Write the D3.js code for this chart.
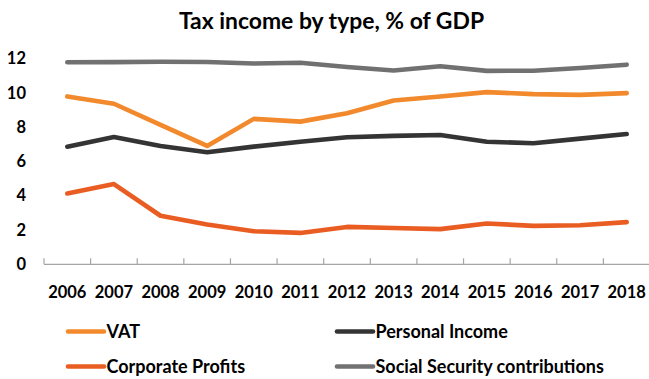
<!DOCTYPE html>
<html>
<head>
<meta charset="utf-8">
<script src="https://cdn.jsdelivr.net/npm/d3@7"></script>
<style>
  html, body { margin: 0; padding: 0; background: #fff; }
  svg { display: block; font-family: Lato, "Open Sans", sans-serif; font-weight: 700; }
</style>
</head>
<body>
<svg id="chart" width="649" height="379"></svg>
<script>
// Tax income by type, share of GDP (%)
const years = ["2006","2007","2008","2009","2010","2011","2012","2013","2014","2015","2016","2017","2018"];
const vat = [9.79, 9.36, 8.13, 6.90, 8.48, 8.32, 8.81, 9.55, 9.78, 10.04, 9.92, 9.88, 9.98];
const personalIncome = [6.86, 7.42, 6.90, 6.53, 6.86, 7.15, 7.41, 7.49, 7.54, 7.15, 7.06, 7.33, 7.60];
const corporateProfits = [4.13, 4.68, 2.83, 2.32, 1.93, 1.83, 2.18, 2.12, 2.05, 2.38, 2.24, 2.28, 2.46];
const socialSecurity = [11.78, 11.79, 11.81, 11.80, 11.71, 11.75, 11.50, 11.30, 11.55, 11.28, 11.29, 11.45, 11.64];
const yTicks = [0, 2, 4, 6, 8, 10, 12];

const series = [
  { name: "VAT", values: vat, color: "#F28A2D" },
  { name: "Personal Income", values: personalIncome, color: "#343434" },
  { name: "Corporate Profits", values: corporateProfits, color: "#E95D23" },
  { name: "Social Security contributions", values: socialSecurity, color: "#717171" }
];

const svg = d3.select("#chart");

const x = d3.scaleBand().domain(years).range([44, 650]).paddingInner(0).paddingOuter(0);
const y = d3.scaleLinear().domain([0, 12]).range([264.3, 58.5]);
const cx = d => x(d) + x.bandwidth() / 2;

// title
svg.append("text")
  .attr("x", 331.5).attr("y", 28.5)
  .attr("text-anchor", "middle")
  .attr("font-size", 22.9)
  .attr("fill", "#000")
  .text("Tax income by type, % of GDP");

// y axis labels
const yAxis = d3.axisLeft(y).tickValues(yTicks).tickSize(0).tickPadding(0);
const gy = svg.append("g").attr("transform", "translate(26,0)").call(yAxis);
gy.select(".domain").remove();
gy.selectAll("text").attr("font-size", 16.5).attr("fill", "#000")
  .attr("font-family", "Lato, sans-serif").attr("font-weight", 700);

// x axis: baseline plus ticks at category boundaries
const gx = svg.append("g");
gx.append("line")
  .attr("x1", x.range()[0]).attr("x2", x.range()[1])
  .attr("y1", y(0)).attr("y2", y(0))
  .attr("stroke", "#A5A5A5").attr("stroke-width", 1.3);
gx.selectAll("line.tick").data(years).join("line")
  .attr("class", "tick")
  .attr("x1", d => x(d)).attr("x2", d => x(d))
  .attr("y1", y(0)).attr("y2", y(0) - 6)
  .attr("stroke", "#A5A5A5").attr("stroke-width", 1.2);
gx.selectAll("text").data(years).join("text")
  .attr("x", d => cx(d)).attr("y", 298)
  .attr("text-anchor", "middle")
  .attr("font-size", 16.5)
  .attr("fill", "#000")
  .text(d => d);

// series lines
const line = d3.line()
  .x((v, i) => cx(years[i]))
  .y(v => y(v));

svg.append("g").selectAll("path").data(series).join("path")
  .attr("d", s => line(s.values))
  .attr("fill", "none")
  .attr("stroke", s => s.color)
  .attr("stroke-width", 4.6)
  .attr("stroke-linejoin", "round")
  .attr("stroke-linecap", "round");

// legend: two columns, two rows
const legendPos = [
  { lx: 68, ty: 338 }, { lx: 337, ty: 338 },
  { lx: 68, ty: 373 }, { lx: 337, ty: 373 }
];
const lg = svg.append("g").selectAll("g").data(series).join("g")
  .attr("transform", (d, i) => `translate(${legendPos[i].lx},${legendPos[i].ty})`);
lg.append("line")
  .attr("x1", 0).attr("x2", 36)
  .attr("y1", -6.5).attr("y2", -6.5)
  .attr("stroke", d => d.color).attr("stroke-width", 4.6)
  .attr("stroke-linecap", "round");
lg.append("text")
  .attr("x", 38.5).attr("y", 0)
  .attr("font-size", 18)
  .attr("fill", "#000")
  .text(d => d.name);
</script>
</body>
</html>
